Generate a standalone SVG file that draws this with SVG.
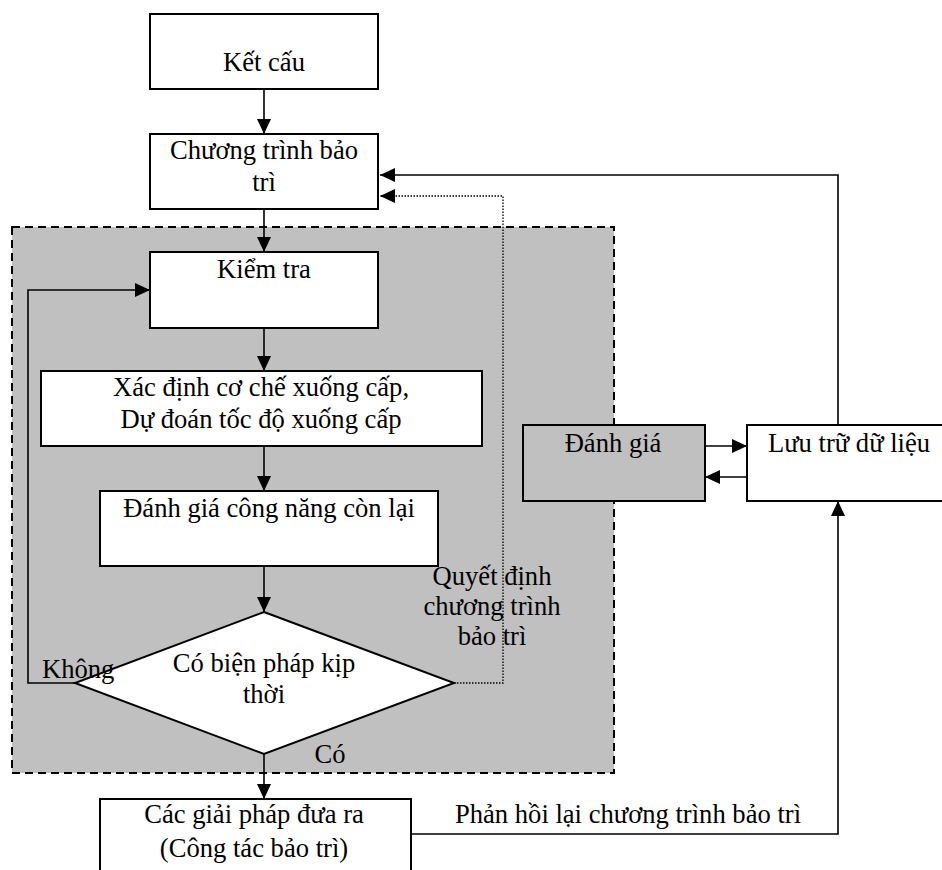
<svg xmlns="http://www.w3.org/2000/svg" width="942" height="870" viewBox="0 0 942 870">
<style>
text{font-family:"Liberation Serif","Times New Roman",serif;font-size:26.6px;fill:#000;text-anchor:middle}
.box{fill:#fff;stroke:#000;stroke-width:2}
.gbox{fill:#c0c0c0;stroke:#000;stroke-width:2}
.con{fill:none;stroke:#000;stroke-width:1.6}
.dot{fill:none;stroke:#000;stroke-width:1.3;stroke-dasharray:1.5 1.5}
.region{fill:#c0c0c0;stroke:#000;stroke-width:2;stroke-dasharray:8 5}
</style>
<defs>
<marker id="arr" markerUnits="userSpaceOnUse" markerWidth="15" markerHeight="14" refX="15" refY="7" orient="auto">
<path d="M0,0 L15,7 L0,14 z" fill="#000"/>
</marker>
</defs>
<rect width="942" height="870" fill="#fff"/>
<g id="region">
<rect class="region" x="12" y="227" width="602" height="546"/>
</g>
<g id="connectors">
<line class="con" x1="264" y1="89" x2="264" y2="134" marker-end="url(#arr)"/>
<line class="con" x1="264" y1="209" x2="264" y2="252" marker-end="url(#arr)"/>
<line class="con" x1="264" y1="328" x2="264" y2="371" marker-end="url(#arr)"/>
<line class="con" x1="264" y1="446" x2="264" y2="491" marker-end="url(#arr)"/>
<line class="con" x1="264" y1="566" x2="264" y2="612" marker-end="url(#arr)"/>
<line class="con" x1="264" y1="754" x2="264" y2="799" marker-end="url(#arr)"/>
<path class="con" d="M75,683 H28 V290 H150" marker-end="url(#arr)"/>
<path class="dot" d="M454,683 H503 V196 H380" marker-end="url(#arr)"/>
<path class="con" d="M838,425 V175 H380" marker-end="url(#arr)"/>
<line class="con" x1="705" y1="446" x2="747" y2="446" marker-end="url(#arr)"/>
<line class="con" x1="747" y1="477" x2="705" y2="477" marker-end="url(#arr)"/>
<path class="con" d="M411,834 H838 V501" marker-end="url(#arr)"/>
</g>
<g id="n-ketcau">
<rect class="box" x="150" y="14" width="228" height="75"/>
<text x="264" y="71">Kết cấu</text>
</g>
<g id="n-chuongtrinh">
<rect class="box" x="150" y="134" width="228" height="75"/>
<text x="264" y="159">Chương trình bảo</text>
<text x="264" y="191">trì</text>
</g>
<g id="n-kiemtra">
<rect class="box" x="150" y="252" width="228" height="76"/>
<text x="264" y="278">Kiểm tra</text>
</g>
<g id="n-xacdinh">
<rect class="box" x="41" y="371" width="441" height="75"/>
<text x="261" y="396">Xác định cơ chế xuống cấp,</text>
<text x="261" y="428">Dự đoán tốc độ xuống cấp</text>
</g>
<g id="n-danhgiacongnang">
<rect class="box" x="100" y="491" width="338" height="75"/>
<text x="269" y="517">Đánh giá công năng còn lại</text>
</g>
<g id="n-quyetdinh">
<polygon class="box" points="264,612 454,683 264,754 75,683"/>
<text x="264" y="672">Có biện pháp kịp</text>
<text x="264" y="703">thời</text>
</g>
<g id="n-giaiphap">
<rect class="box" x="100" y="799" width="311" height="80"/>
<text x="254" y="823">Các giải pháp đưa ra</text>
<text x="254" y="857">(Công tác bảo trì)</text>
</g>
<g id="n-danhgia">
<rect class="gbox" x="523" y="425" width="182" height="76"/>
<text x="613" y="452">Đánh giá</text>
</g>
<g id="n-luutru">
<rect class="box" x="747" y="425" width="205" height="76"/>
<text x="849" y="452">Lưu trữ dữ liệu</text>
</g>
<g id="labels">
<text x="42" y="678" style="text-anchor:start">Không</text>
<text x="330" y="763">Có</text>
<text x="492" y="585">Quyết định</text>
<text x="492" y="615">chương trình</text>
<text x="492" y="645">bảo trì</text>
<text x="628" y="823">Phản hồi lại chương trình bảo trì</text>
</g>
</svg>
